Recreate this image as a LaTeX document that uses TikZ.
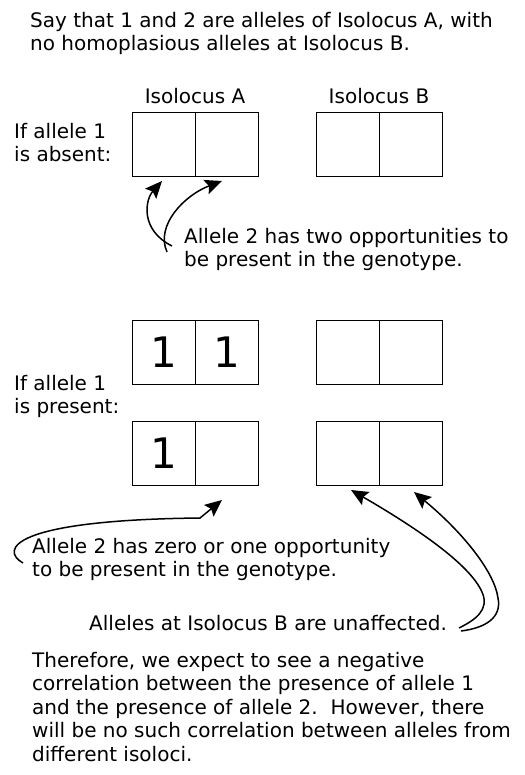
\documentclass[tikz,border=0pt]{standalone}
\usepackage{fontspec}
\setmainfont{DejaVu Sans}
\usetikzlibrary{arrows.meta}
\tikzset{
    cell/.style = {rectangle, draw=black, line width=0.9pt, minimum width=63pt, minimum height=64pt, inner sep=0pt},
    txt/.style = {align=left, anchor=north west, inner sep=0pt, font=\fontsize{20}{23.5}\selectfont},
    hdr/.style = {anchor=base, inner sep=0pt, font=\fontsize{20}{23.5}\selectfont},
    big/.style = {font=\fontsize{42}{42}\selectfont},
    edgea/.style = {-{Stealth[length=17pt,width=15pt,inset=3pt]}, line width=1.5pt, black},
}
\begin{document}
\begin{tikzpicture}[x=1pt,y=-1pt]
\useasboundingbox (0,0) rectangle (524,775);
%
\node[txt] at (30,11.8) (intro) {Say that 1 and 2 are alleles of Isolocus A, with\\no homoplasious alleles at Isolocus B.};
\node[hdr] at (195,104) (hA) {Isolocus A};
\node[hdr] at (379,104) (hB) {Isolocus B};
\node[txt] at (14,122.8) (absent) {If allele 1\\is absent:};
%
\node[cell] at (164,144.5) (a1) {};
\node[cell] at (227,144.5) (a2) {};
\node[cell] at (348,144.5) (b1) {};
\node[cell] at (411,144.5) (b2) {};
%
\node[txt] at (184,227.8) (two) {Allele 2 has two opportunities to\\be present in the genotype.};
%
\node[cell, big] at (164,352.5) (c1) {1};
\node[cell, big] at (227,352.5) (c2) {1};
\node[cell] at (348,352.5) (d1) {};
\node[cell] at (411,352.5) (d2) {};
\node[txt] at (14,375) (present) {If allele 1\\is present:};
\node[cell, big] at (164,453.5) (e1) {1};
\node[cell] at (227,453.5) (e2) {};
\node[cell] at (348,453.5) (f1) {};
\node[cell] at (411,453.5) (f2) {};
%
\node[txt] at (32,538) (zero) {Allele 2 has zero or one opportunity\\to be present in the genotype.};
\node[txt] at (89,615) (unaff) {Alleles at Isolocus B are unaffected.};
\node[txt] at (32,652) (concl) {Therefore, we expect to see a negative\\correlation between the presence of allele 1\\and the presence of allele 2.\ \ However, there\\will be no such correlation between alleles from\\different isoloci.};
%
\coordinate (t1) at (172,246);
\coordinate (t2) at (167,252);
\coordinate (t3) at (23,563);
\coordinate (t4) at (459,628);
\coordinate (t5) at (461,631);
\draw[edgea] (t1) .. controls (140,230) and (145,200) .. (162,181);
\draw[edgea] (t2) .. controls (155,225) and (185,195) .. (222,181);
\draw[edgea] (t3) .. controls (0,550) and (10,520) .. (200,518) -- (222,500);
\draw[edgea] (t4) .. controls (475,620) and (490,610) .. (482,592) .. controls (470,565) and (420,530) .. (351,490);
\draw[edgea] (t5) .. controls (485,628) and (502,618) .. (498,598) .. controls (494,570) and (460,530) .. (414,492);
\end{tikzpicture}
\end{document}
